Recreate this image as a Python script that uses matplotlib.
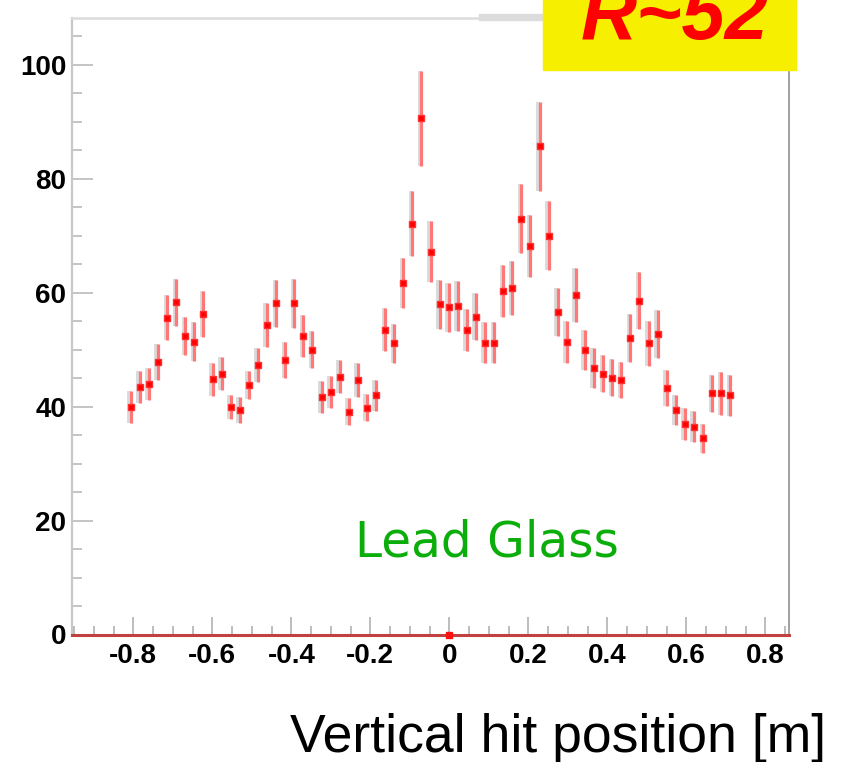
import matplotlib
matplotlib.use("Agg")
import matplotlib.pyplot as plt
from matplotlib.ticker import MultipleLocator, FuncFormatter
from matplotlib.patches import Rectangle

plt.rcParams['axes.unicode_minus'] = False

# bin centres of the vertical hit position histogram [m]
positions = [
    -0.8065, -0.7835, -0.7605, -0.7375, -0.7145, -0.6915, -0.6685, -0.6455, -0.6225, -0.5995,
    -0.5765, -0.5535, -0.5305, -0.5075, -0.4845, -0.4615, -0.4385, -0.4155, -0.3925, -0.3695,
    -0.3465, -0.3235, -0.3005, -0.2775, -0.2545, -0.2315, -0.2085, -0.1855, -0.1625, -0.1395,
    -0.1165, -0.0935, -0.0705, -0.0475, -0.0245, -0.0015, 0.0215, 0.0445, 0.0675, 0.0905,
    0.1135, 0.1365, 0.1595, 0.1825, 0.2055, 0.2285, 0.2515, 0.2745, 0.2975, 0.3205,
    0.3435, 0.3665, 0.3895, 0.4125, 0.4355, 0.4585, 0.4815, 0.5045, 0.5275, 0.5505,
    0.5735, 0.5965, 0.6195, 0.6425, 0.6655, 0.6885, 0.7115,
]
counts = [
    40.0, 43.5, 43.9, 47.8, 55.6, 58.3, 52.4, 51.4, 56.2, 44.8,
    45.8, 40.0, 39.4, 43.8, 47.3, 54.3, 58.1, 48.2, 58.1, 52.4,
    50.0, 41.7, 42.6, 45.2, 39.1, 44.6, 39.8, 42.0, 53.5, 51.1,
    61.7, 72.1, 90.6, 67.2, 58.0, 57.4, 57.7, 53.5, 55.8, 51.2,
    51.2, 60.3, 60.8, 73.0, 68.2, 85.7, 70.0, 56.6, 51.4, 59.6,
    49.9, 46.7, 45.8, 45.1, 44.7, 52.1, 58.6, 51.1, 52.7, 43.3,
    39.4, 36.9, 36.5, 34.4, 42.3, 42.3, 42.0,
]
errors = [
    2.8, 2.8, 2.8, 3.1, 4.0, 4.1, 3.3, 3.4, 4.0, 2.9,
    2.9, 2.1, 2.3, 2.5, 3.0, 3.8, 4.1, 3.1, 4.3, 3.7,
    3.3, 2.8, 2.8, 2.9, 2.4, 3.0, 2.4, 2.7, 3.8, 3.4,
    4.4, 5.7, 8.3, 5.3, 4.3, 4.3, 4.4, 3.7, 4.1, 3.6,
    3.6, 4.6, 4.8, 6.1, 5.4, 7.8, 6.0, 4.2, 3.7, 4.8,
    3.5, 3.5, 3.2, 3.2, 3.2, 4.2, 5.0, 4.0, 4.2, 3.2,
    2.7, 2.8, 2.7, 2.5, 3.3, 3.7, 3.6,
]
empty_bins = [0.0]

W, H = 843, 762
fig = plt.figure(figsize=(W / 100, H / 100), dpi=100)
ax = fig.add_axes([71.7 / W, 1 - 634.5 / H, (789 - 71.7) / W, (634.5 - 18) / H])

# faint grey shadow of the error bars, then the red points on top
ax.errorbar([p - 0.004 for p in positions], counts, yerr=errors, fmt='none',
            ecolor='#dadada', elinewidth=2.8, capsize=0, zorder=2)
ax.errorbar(positions, counts, yerr=errors, fmt='s', color='#ff0000', ms=4.4,
            mec='#ff3030', ecolor='#ff7878', elinewidth=2.3, capsize=0, zorder=3)
ax.plot(empty_bins, [0] * len(empty_bins), 's', color='#ff1010', ms=4,
        clip_on=False, zorder=5)

ax.set_xlim(-0.956, 0.860)
ax.set_ylim(0, 108.2)

ax.spines['left'].set_color('#c8c8c8')
ax.spines['left'].set_linewidth(1.6)
ax.spines['bottom'].set_color('#c24040')
ax.spines['bottom'].set_linewidth(2.2)
ax.spines['bottom'].set_zorder(4)
ax.spines['top'].set_color('#dcdcdc')
ax.spines['top'].set_linewidth(1.8)
ax.spines['right'].set_color('#9a9a9a')
ax.spines['right'].set_linewidth(1.3)

ax.xaxis.set_major_locator(MultipleLocator(0.2))
ax.xaxis.set_minor_locator(MultipleLocator(0.05))
ax.yaxis.set_major_locator(MultipleLocator(20))
ax.yaxis.set_minor_locator(MultipleLocator(5))
ax.xaxis.set_major_formatter(FuncFormatter(lambda v, p: f'{round(v, 2) + 0.0:g}'))
ax.yaxis.set_major_formatter(FuncFormatter(lambda v, p: f'{v:.0f}'))

ax.tick_params(axis='x', which='major', direction='in', length=13, width=1.3,
               color='#b8b8b8', pad=6)
ax.tick_params(axis='x', which='minor', direction='in', length=6.5, width=1.3,
               color='#b8b8b8')
ax.tick_params(axis='y', which='major', direction='in', length=15, width=1.4,
               color='#c4c4c4', pad=4)
ax.tick_params(axis='y', which='minor', direction='in', length=7, width=1.4,
               color='#c4c4c4')
for lab in ax.get_xticklabels() + ax.get_yticklabels():
    lab.set_family('Liberation Sans')
    lab.set_fontweight('bold')
    lab.set_fontsize(20)

ax.text(0.095, 13.7, 'Lead Glass', color='#0aad0a', fontsize=35,
        family='DejaVu Sans', ha='center', va='baseline')

fig.text(826 / W, 1 - 752 / H, 'Vertical hit position [m]', fontsize=38.5,
         family='Liberation Sans', ha='right', va='baseline')

# grey strip along the frame top and the yellow label box
fig.patches.append(Rectangle((479 / W, 1 - 19.5 / H), 64 / W, 5.5 / H,
                             transform=fig.transFigure, color='#dcdcdc', zorder=6))
fig.patches.append(Rectangle((543 / W, 1 - 69.7 / H), (796 - 543) / W, 69.7 / H,
                             transform=fig.transFigure, color='#f6ef00', zorder=7))
fig.text(675 / W, 1 - 39 / H, 'R~52', color='#ff0000', fontsize=56,
         family='Liberation Sans', fontweight='bold', fontstyle='italic',
         ha='center', va='baseline', zorder=8)

fig.savefig('out.png', dpi=100)
